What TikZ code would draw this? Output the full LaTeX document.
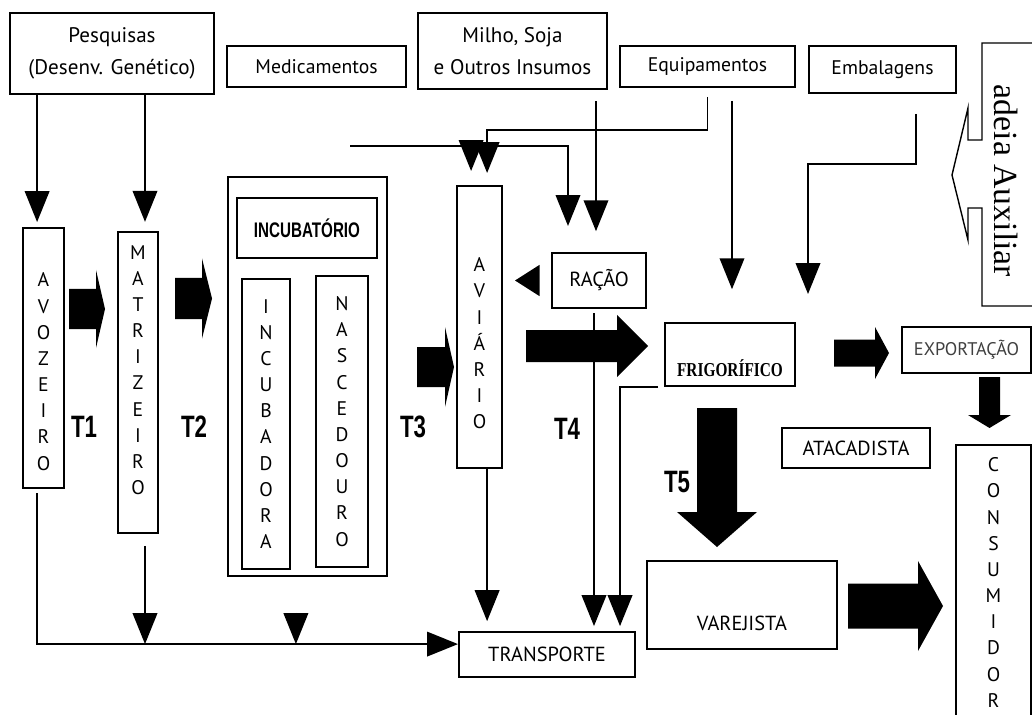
\documentclass[tikz,border=0pt]{standalone}
\usepackage{fontspec}
\setmainfont{PT Sans}
\newfontfamily\narrowsf{Liberation Sans}[FakeStretch=0.72]
\newfontfamily\narrowrm{Liberation Serif}[FakeStretch=0.78]
\newfontfamily\auxrm{Liberation Serif}
\usetikzlibrary{arrows.meta,calc,positioning}

% block arrows: shaft start, head base, tip, centre, shaft half width, head half width
\newcommand{\blockright}[6]{\fill (#1,#4-#5) -- (#2,#4-#5) -- (#2,#4-#6) -- (#3,#4) -- (#2,#4+#6) -- (#2,#4+#5) -- (#1,#4+#5) -- cycle;}
\newcommand{\blockdown}[6]{\fill (#4-#5,#1) -- (#4-#5,#2) -- (#4-#6,#2) -- (#4,#3) -- (#4+#6,#2) -- (#4+#5,#2) -- (#4+#5,#1) -- cycle;}

\begin{document}
\begin{tikzpicture}[x=0.025cm,y=-0.025cm,>={Triangle[length=22pt,width=17.5pt]},
    box/.style={draw,line width=1.4pt,inner sep=0pt,align=center},
    vlet/.style={align=center,font=\fontsize{14}{18.6}\selectfont},
    con/.style={line width=1.2pt,->},
    tlab/.style={font=\narrowsf\bfseries\fontsize{22}{22}\selectfont},
    caps/.style={font=\fontsize{14.5}{17}\selectfont}]
    \path[use as bounding box] (0,0) rectangle (1032,715);
    \clip (0,0) rectangle (1032,715);

    % suppliers
    \node[box,minimum width=5.1cm,minimum height=2.025cm,font=\fontsize{15}{22.5}\selectfont] (pesq) at (112,53.5) {Pesquisas\\(Desenv. Genético)};
    \node[box,minimum width=4.475cm,minimum height=1.025cm,font=\fontsize{14}{17}\selectfont] (medic) at (316.5,66.5) {Medicamentos};
    \node[box,minimum width=4.725cm,minimum height=1.9cm,font=\fontsize{15}{22.5}\selectfont] (milho) at (512.5,51) {Milho, Soja\\e Outros Insumos};
    \node[box,minimum width=4.375cm,minimum height=1.025cm,font=\fontsize{14}{17}\selectfont] (equip) at (707.5,66.5) {Equipamentos};
    \node[box,minimum width=3.675cm,minimum height=1.175cm,font=\fontsize{14}{17}\selectfont] (embal) at (882.5,69.5) {Embalagens};

    % chain
    \node[box,minimum width=1.025cm,minimum height=6.5cm,label={[vlet,yshift=-0.34cm]center:A\\V\\O\\Z\\E\\I\\R\\O}] (avoz) at (43.5,358) {};
    \node[box,minimum width=1cm,minimum height=7.525cm,label={[vlet,yshift=0.31cm]center:M\\A\\T\\R\\I\\Z\\E\\I\\R\\O}] (matriz) at (138,382.5) {};
    \node[box,minimum width=3.975cm,minimum height=9.975cm] (incub) at (307.5,376.5) {};
    \node[box,minimum width=3.5cm,minimum height=1.5cm,font=\narrowsf\bfseries\fontsize{15}{17}\selectfont] (incubt) at (307,228) {INCUBATÓRIO};
    \node[box,vlet,minimum width=1.2cm,minimum height=7.25cm] (incubad) at (266,424) {I\\N\\C\\U\\B\\A\\D\\O\\R\\A};
    \node[box,vlet,minimum width=1.3cm,minimum height=7.275cm] (nasc) at (342,421.5) {N\\A\\S\\C\\E\\D\\O\\U\\R\\O};
    \node[box,minimum width=1.125cm,minimum height=7.05cm,label={[vlet,yshift=-0.41cm]center:A\\V\\I\\Á\\R\\I\\O}] (aviario) at (479.5,327) {};
    \node[box,caps,minimum width=2.35cm,minimum height=1.375cm] (racao) at (599,280.5) {RAÇÃO};
    \node[box,minimum width=3.25cm,minimum height=1.575cm,label={[font=\narrowrm\bfseries\fontsize{14}{17}\selectfont,yshift=-0.34cm]center:FRIGORÍFICO}] (frigo) at (730,354.5) {};
    \node[box,minimum width=3.225cm,minimum height=1.15cm,font=\fontsize{13}{15}\selectfont,text=black!75] (export) at (966.5,350) {EXPORTAÇÃO};
    \node[box,caps,minimum width=3.7cm,minimum height=1cm] (atac) at (856,448) {ATACADISTA};
    \node[box,vlet,minimum width=1.875cm,minimum height=6.875cm] (consum) at (993.5,582.5) {C\\O\\N\\S\\U\\M\\I\\D\\O\\R};
    \node[box,minimum width=4.75cm,minimum height=2.2cm,label={[caps,yshift=-0.45cm]center:VAREJISTA}] (varej) at (742,605) {};
    \node[box,caps,minimum width=4.4cm,minimum height=1.125cm] (transp) at (547,654.5) {TRANSPORTE};

    \node[tlab] (t1) at (84,427) {T1};
    \node[tlab] (t2) at (194,427) {T2};
    \node[tlab] (t3) at (413,427) {T3};
    \node[tlab] (t4) at (567,429) {T4};
    \node[tlab] (t5) at (677,482) {T5};

    % cadeia auxiliar
    \draw[line width=1pt] (1045,43) -- (982,43) -- (982,140) -- (968,140) -- (968,108) -- (952,175) -- (968,240) -- (968,208) -- (982,208) -- (982,306) -- (1045,306);
    \node[rotate=-90,font=\auxrm\fontsize{24}{24}\selectfont] (aux) at (1006,181) {adeia Auxiliar};

    % big arrows
    \blockright{69}{96}{105}{309}{20}{39}
    \blockright{175}{202}{212}{298.5}{20.5}{40}
    \blockright{417}{445}{454}{367}{20}{40}
    \blockright{526}{617}{648}{346}{16}{31}
    \blockright{834}{875}{889}{353}{13.5}{26}
    \blockright{848}{918}{943}{606}{22.5}{45}
    \blockdown{408}{512}{547}{717}{20}{40}
    \blockdown{377}{415}{428}{989.5}{10.5}{21.5}

    % connectors
    \coordinate (bus) at ([yshift=0.26cm]transp.west);
    \coordinate (medin) at (350,146);
    \coordinate (embout) at (808,294);

    \draw[con,shorten >=3.5pt] ([xshift=-0.16cm]avoz.north |- pesq.south) -- ([xshift=-0.16cm]avoz.north);
    \draw[con,shorten >=6.5pt] ([xshift=0.175cm]matriz.north |- pesq.south) -- ([xshift=0.175cm]matriz.north);
    \draw[con,shorten <=3pt] ([xshift=-0.16cm]avoz.south) |- (bus);
    \draw[con,shorten <=8.5pt] ([xshift=0.175cm]matriz.south) -- ([xshift=0.175cm]matriz.south |- bus);
    \draw[con] ([xshift=-0.29cm,yshift=0.78cm]incub.south |- bus) -- ([xshift=-0.29cm]incub.south |- bus);
    \draw[con,shorten >=7pt] ([xshift=0.19cm]aviario.south) -- ([xshift=0.19cm]aviario.south |- transp.north);
    \draw[con,shorten <=3pt,shorten >=3.5pt] ([xshift=-0.125cm]racao.south) -- ([xshift=-0.125cm]racao.south |- transp.north);
    \draw[con,shorten >=3.5pt] ([xshift=-0.15cm]frigo.south west) -| ([xshift=1.825cm]transp.north);

    \draw[con,shorten >=0.65cm] (medin) -| ([xshift=-0.775cm]racao.north);
    \draw[con,shorten >=0.35cm] ([xshift=-0.21cm]aviario.north |- medin) -- ([xshift=-0.21cm]aviario.north);
    \draw[con,shorten >=0.3cm] ([yshift=-0.22cm]equip.south) -- ++(0,33) -| ([xshift=0.19cm]aviario.north);
    \draw[con,shorten <=0.28cm,shorten >=0.52cm] ([xshift=-0.075cm]racao.north |- milho.south) -- ([xshift=-0.075cm]racao.north);
    \draw[con,shorten <=0.32cm,shorten >=0.82cm] ([xshift=0.05cm]frigo.north |- equip.south) -- ([xshift=0.05cm]frigo.north);
    \draw[con,shorten <=0.5cm] ([xshift=0.84cm]embal.south) -- ++(0,70) -| (embout);
    \draw[line width=1.2pt,-{Triangle[length=17.5pt,width=22pt]},shorten <=0.32cm] (racao.west) -- ([xshift=0.3cm]aviario.east |- racao.west);
\end{tikzpicture}
\end{document}
